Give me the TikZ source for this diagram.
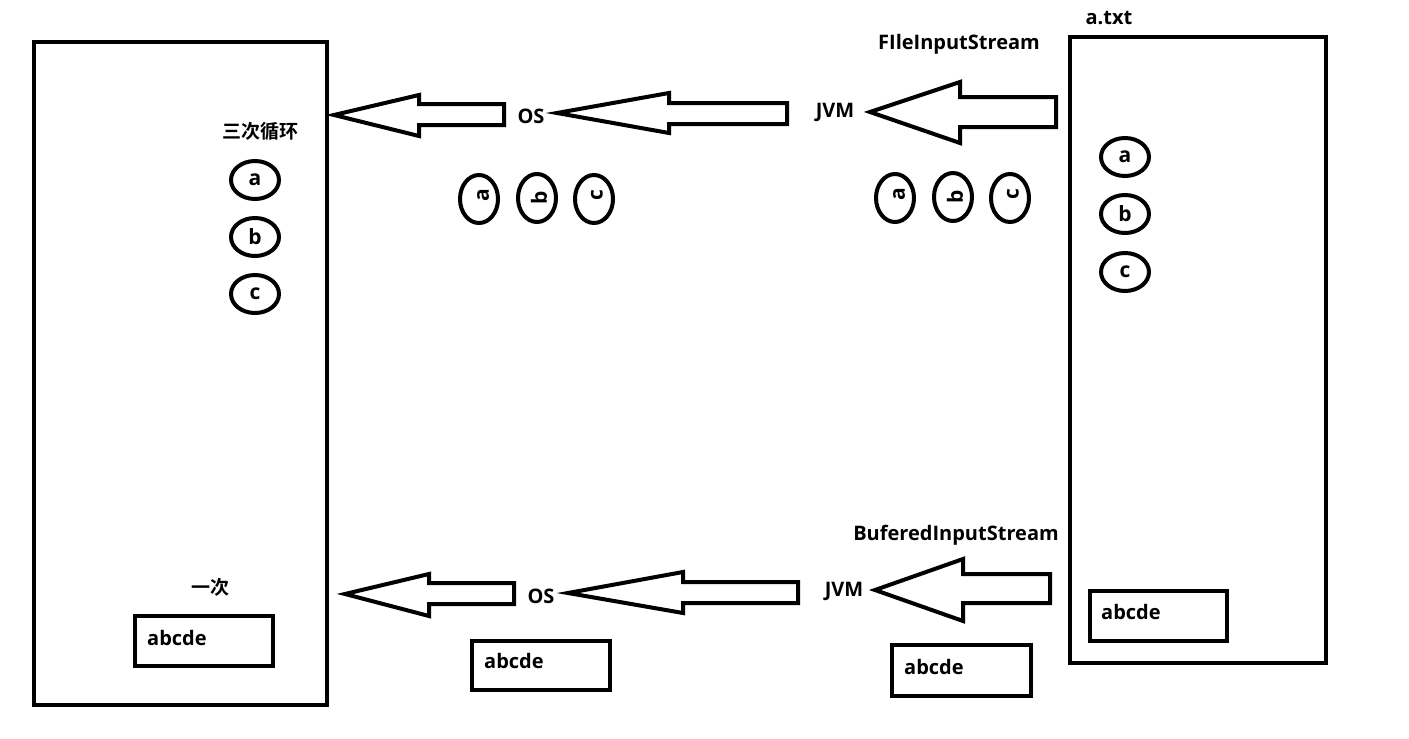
\documentclass[tikz,border=0pt]{standalone}
\usepackage{fontspec}
\setmainfont{Open Sans}[BoldFont={Open Sans Bold}]
\newfontfamily\cjk{Noto Sans CJK SC}[BoldFont={* Bold}]
\usetikzlibrary{shapes.geometric}
\newcommand{\blkarrow}[8]{% tipx tipy headback headtop headbot shafttop shaftbot right
  \draw[arrowline] (#1,#2) -- (#3,#4) -- (#3,#6) -- (#8,#6) -- (#8,#7) -- (#3,#7) -- (#3,#5) -- cycle;}
\begin{document}
\begin{tikzpicture}[x=1pt,y=-1pt,
  lbl/.style={font=\fontsize{20}{24}\selectfont\bfseries, inner sep=0pt},
  cjklbl/.style={font=\fontsize{19}{23}\selectfont\cjk\bfseries, inner sep=0pt},
  frame/.style={draw, line width=4.5pt, outer sep=0pt, inner sep=0pt},
  arrowline/.style={draw, line width=4pt, line join=miter},
  hell/.style={ellipse, draw, line width=4pt, minimum width=48pt, minimum height=38pt, inner sep=0pt, font=\fontsize{21}{24}\selectfont\bfseries},
  vell/.style={ellipse, draw, line width=4pt, minimum width=38pt, minimum height=48pt, inner sep=0pt},
  vlet/.style={rotate=90, font=\fontsize{21}{24}\selectfont\bfseries, inner sep=0pt},
  smallbox/.style={draw, line width=4.5pt}
]
\useasboundingbox (0,0) rectangle (1409,739);
\fill[white] (0,0) rectangle (1409,739);

% big frames
\node[frame, minimum width=293pt, minimum height=663pt, anchor=north west] (left) at (34,42) {};
\node[frame, minimum width=256pt, minimum height=626pt, anchor=north west] (right) at (1070,37) {};

% labels
\node[lbl] (atxt) at (1109,18) {a.txt};
\node[lbl] (fis) at (959,44) {FIleInputStream};
\node[lbl] (bis) at (956,535) {BuferedInputStream};
\node[lbl] (os1) at (531,116) {OS};
\node[lbl] (jvm1) at (835,112) {JVM};
\node[lbl] (os2) at (541,596) {OS};
\node[lbl] (jvm2) at (844,591) {JVM};
\node[cjklbl] (sanci) at (260,131) {三次循环};
\node[cjklbl] (yici) at (210,587) {一次};

% arrows top
\blkarrow{334}{115}{419}{95}{136}{104}{125}{504}
\blkarrow{557}{113}{669}{93}{133}{103}{124}{787}
\blkarrow{870}{112}{960}{82}{143}{97}{127}{1056}
% arrows bottom
\blkarrow{345}{594}{429}{574}{616}{583}{604}{514}
\blkarrow{568}{593}{683}{572}{613}{582}{603}{798}
\blkarrow{875}{590}{963}{559}{621}{574}{603}{1050}

% left column ellipses
\node[hell] (la) at (255,180) {\raisebox{-3pt}{a}};
\node[hell] (lb) at (255,237) {\raisebox{-2pt}{b}};
\node[hell] (lc) at (255,294) {\raisebox{-3pt}{c}};
% right frame ellipses
\node[hell] (ra) at (1125,157) {\raisebox{-3pt}{a}};
\node[hell] (rb) at (1125,214) {\raisebox{-2pt}{b}};
\node[hell] (rc) at (1125,272) {\raisebox{-3pt}{c}};

% vertical ellipses middle
\node[vell] (ma) at (479,199) {};
\node[vlet] at ([xshift=4pt,yshift=4pt]ma.center) {a};
\node[vell] (mb) at (537,198) {};
\node[vlet] at ([xshift=2pt,yshift=0pt]mb.center) {b};
\node[vell] (mc) at (594,199) {};
\node[vlet] at ([xshift=3pt,yshift=4pt]mc.center) {c};
% vertical ellipses right
\node[vell] (na) at (895,198) {};
\node[vlet] at ([xshift=4pt,yshift=4pt]na.center) {a};
\node[vell] (nb) at (953,197) {};
\node[vlet] at ([xshift=2pt,yshift=0pt]nb.center) {b};
\node[vell] (nc) at (1010,198) {};
\node[vlet] at ([xshift=3pt,yshift=4pt]nc.center) {c};

% small boxes
\draw[smallbox] (135,616) rectangle (273,666);
\node[lbl, anchor=base west] (t1) at (147,645) {abcde};
\draw[smallbox] (472,641) rectangle (610,690);
\node[lbl, anchor=base west] (t2) at (484,668) {abcde};
\draw[smallbox] (892,645) rectangle (1031,696);
\node[lbl, anchor=base west] (t3) at (904,674) {abcde};
\draw[smallbox] (1090,591) rectangle (1227,641);
\node[lbl, anchor=base west] (t4) at (1101,619) {abcde};
\end{tikzpicture}
\end{document}
